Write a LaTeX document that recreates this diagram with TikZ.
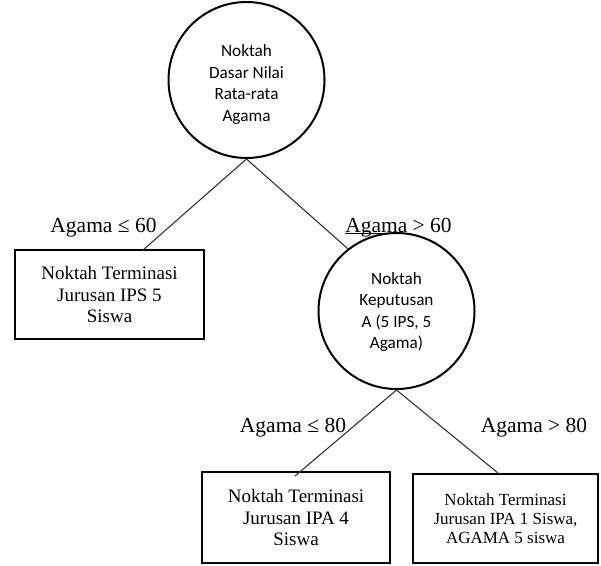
\documentclass[tikz,border=0pt]{standalone}
\usepackage{fontspec}
\setmainfont{Liberation Serif}
\newfontfamily\calib{Carlito}
\usetikzlibrary{calc}
\tikzset{
  decision/.style={circle, draw=black, line width=2pt, minimum size=156pt, inner sep=0pt},
  circtext/.style={align=center, font=\calib\fontsize{17.2}{21.5}\selectfont, inner sep=0pt},
  leafbox/.style={rectangle, draw=black, line width=2.6pt, inner sep=0pt, align=center,
    font=\fontsize{19}{21.5}\selectfont},
  cond/.style={anchor=base, inner sep=0pt, font=\fontsize{21.5}{24}\selectfont},
  edge/.style={draw=black!80, line width=1.1pt}
}
\begin{document}
\begin{tikzpicture}[x=1pt,y=-1pt]
\useasboundingbox (0,0) rectangle (601,565);
% decision nodes
\node[decision] (top) at (246.5,80) {};
\node[circtext] (toptext) at (246.5,84.5) {Noktah\\Dasar Nilai\\Rata-rata\\Agama};
\node[decision] (mid) at (396.5,311) {};
\node[circtext] (midtext) at (396.5,312) {Noktah\\Keputusan\\A (5 IPS, 5\\Agama)};
% leaf boxes
\node[leafbox, minimum width=189pt, minimum height=89pt] (lb) at (109.5,294.5)
  {Noktah Terminasi\\Jurusan IPS 5\\Siswa};
\node[leafbox, minimum width=188pt, minimum height=91pt] (bl) at (296,517.5)
  {Noktah Terminasi\\Jurusan IPA 4\\Siswa};
\node[leafbox, minimum width=185pt, minimum height=89pt,
  font=\fontsize{17}{19}\selectfont] (br) at (505.5,518.5)
  {Noktah Terminasi\\Jurusan IPA 1 Siswa,\\AGAMA 5 siswa};
% connector end points
\coordinate (lbin) at (143,250);
\coordinate (blin) at (295,476);
\coordinate (brin) at (498,473);
% connectors
\draw[edge] (top.south) -- (lbin);
\draw[edge] (top.south) -- (mid.128);
\draw[edge] (mid.south) -- (blin);
\draw[edge] (mid.south) -- (brin);
% condition labels
\node[cond] (c1) at (103.5,232) {Agama ≤ 60};
\node[cond] (c2) at (398.5,232) {\underline{\smash{Agama}} > 60};
\node[cond] (c3) at (293,432) {Agama ≤ 80};
\node[cond] (c4) at (534,432) {Agama > 80};
\end{tikzpicture}
\end{document}
